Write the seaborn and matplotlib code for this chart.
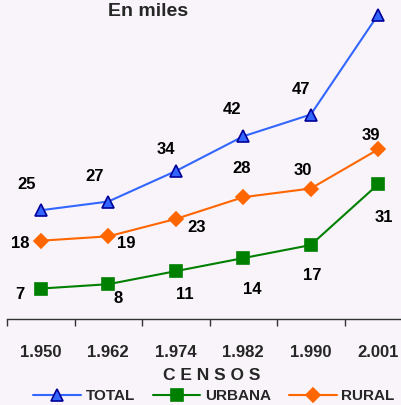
import matplotlib
matplotlib.use("Agg")
import matplotlib.pyplot as plt
import seaborn as sns
import pandas as pd

censos = ["1.950", "1.962", "1.974", "1.982", "1.990", "2.001"]
total = [25, 27, 34, 42, 47, 70]
urbana = [7, 8, 11, 14, 17, 31]
rural = [18, 19, 23, 28, 30, 39]

# label offsets in pixels (dx, dy) for each point
off_total = [(-14, 26), (-14, 25), (-10, 22), (-11, 27), (-10, 25), (0, 20)]
off_urbana = [(-21, -6), (10, -14), (9, -23), (9, -31), (1, -30), (6, -33)]
off_rural = [(-21, -3), (18, -7), (21, -9), (-2, 29), (-8, 18), (-7, 14)]

bg = "#f8f4f9"
sns.set_style("white")
plt.rcParams["font.family"] = ["Liberation Sans", "DejaVu Sans"]

fig = plt.figure(figsize=(4.01, 4.05), dpi=100, facecolor=bg)
ax = fig.add_axes([7 / 401, 1 - 319 / 405, 405 / 401, 319 / 405])
ax.set_facecolor(bg)

x = list(range(len(censos)))
series = [
    ("TOTAL", total, "#3366ff", "^", "#3366ff", "#000099", 9, off_total),
    ("URBANA", urbana, "#008000", "s", "#008000", "#008000", 8, off_urbana),
    ("RURAL", rural, "#ff6600", "D", "#ff6600", "#ff6600", 7.5, off_rural),
]
for name, vals, col, mk, fc, ec, ms, offs in series:
    df = pd.DataFrame({"x": x, "y": vals})
    sns.lineplot(data=df, x="x", y="y", ax=ax, color=col, marker=mk,
                 markerfacecolor=fc, markeredgecolor=ec, markersize=ms,
                 markeredgewidth=1.2, linewidth=1.5, label=name, sort=False)
    for xi, v, (dx, dy) in zip(x, vals, offs):
        ax.annotate(str(v), (xi, v), xytext=(dx, dy), textcoords="offset pixels",
                    ha="center", va="center", fontsize=12, fontweight="bold",
                    color="black", annotation_clip=False)

ax.set_xlim(-0.5, len(censos) - 0.5)
ax.set_ylim(0, 319 / 4.35)
ax.set_xticks(x)
ax.set_xticklabels(censos, fontsize=12, fontweight="bold")
ax.set_xticks([i - 0.5 for i in range(len(censos) + 1)], minor=True)
ax.tick_params(axis="x", which="major", bottom=False, length=0, pad=19)
ax.tick_params(axis="x", which="minor", bottom=True, length=5, width=1,
               color="#333333", direction="out")
ax.set_yticks([])
ax.set_xlabel("")
ax.set_ylabel("")
for s in ["left", "right", "top"]:
    ax.spines[s].set_visible(False)
ax.spines["bottom"].set_color("#333333")
ax.spines["bottom"].set_linewidth(1)

handles, labels = ax.get_legend_handles_labels()
ax.get_legend().remove()
leg = fig.legend(handles, labels, loc="center",
                 bbox_to_anchor=(214 / 401, 1 - 396 / 405),
                 ncol=3, frameon=False, fontsize=11,
                 handlelength=3.1, handletextpad=0.3, columnspacing=1.2,
                 borderaxespad=0, borderpad=0)
for t in leg.get_texts():
    t.set_fontweight("bold")

fig.text(148 / 401, 1 - 11 / 405, "En miles", ha="center", va="center",
         fontsize=14, fontweight="bold")
fig.text(212 / 401, 1 - 375 / 405, "C E N S O S", ha="center", va="center",
         fontsize=12.5, fontweight="bold")

fig.savefig("out.png", dpi=100, facecolor=bg)
